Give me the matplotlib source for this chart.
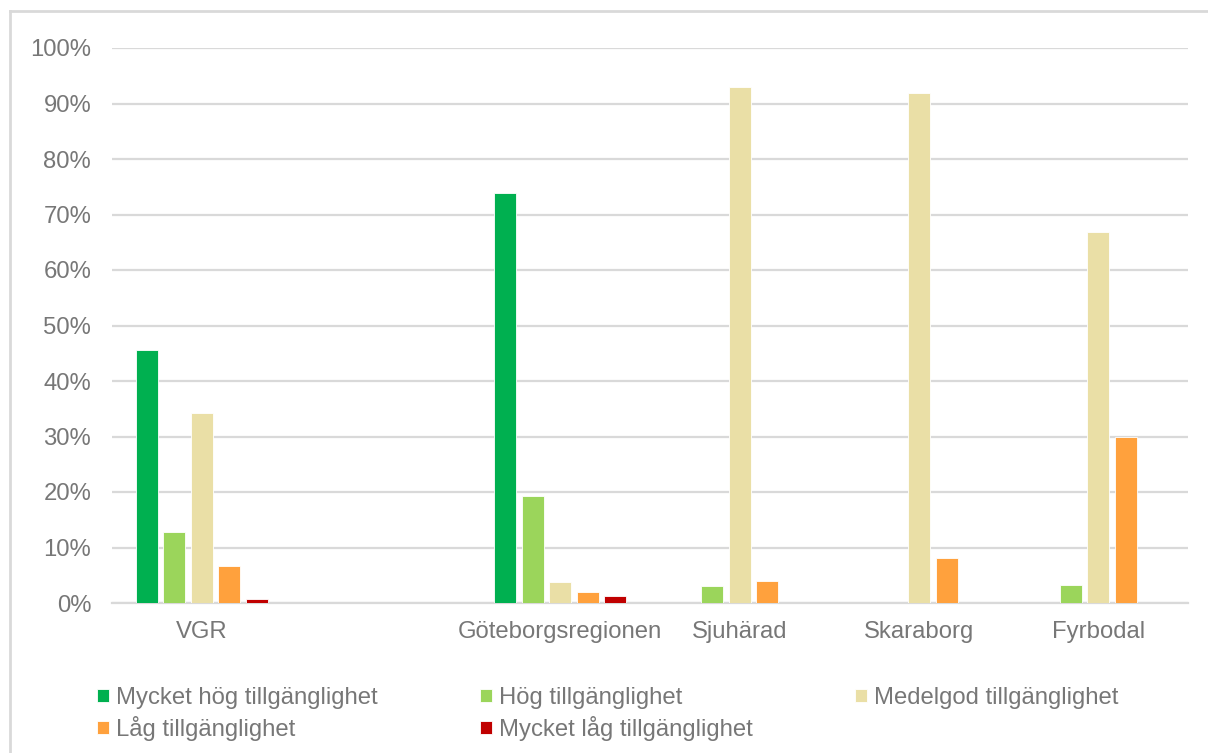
import matplotlib
matplotlib.use("Agg")
import matplotlib.pyplot as plt
import numpy as np
from matplotlib.lines import Line2D

categories = ["VGR", "", "Göteborgsregionen", "Sjuhärad", "Skaraborg", "Fyrbodal"]
series_names = ["Mycket hög tillgänglighet", "Hög tillgänglighet", "Medelgod tillgänglighet",
                "Låg tillgänglighet", "Mycket låg tillgänglighet"]
mycket_hog = [45.6, 0, 73.9, 0, 0, 0]
hog = [12.8, 0, 19.2, 3.0, 0, 3.3]
medelgod = [34.2, 0, 3.7, 93.0, 91.9, 66.8]
lag = [6.7, 0, 1.9, 4.0, 8.1, 29.9]
mycket_lag = [0.7, 0, 1.2, 0, 0, 0]
yticks = [0, 10, 20, 30, 40, 50, 60, 70, 80, 90, 100]

colors = ["#00B050", "#9BD55B", "#EADFA6", "#FFA13D", "#C00000"]
text_color = "#777777"
grid_color = "#D9D9D9"
FS = 17.2

W, H = 1208, 753
fig = plt.figure(figsize=(W / 100, H / 100), dpi=100)
fig.patch.set_facecolor("white")
plt.rcParams["font.family"] = ["Liberation Sans", "DejaVu Sans"]

# figure border lines (chart frame)
fig.add_artist(Line2D([10 / W, 1.0], [1 - 11 / H, 1 - 11 / H], color="#D9D9D9", lw=2.0, transform=fig.transFigure))
fig.add_artist(Line2D([10 / W, 10 / W], [0, 1 - 11 / H], color="#D9D9D9", lw=2.0, transform=fig.transFigure))

ax = fig.add_axes([112 / W, (H - 603) / H, (1188 - 112) / W, 555 / H])
x = np.arange(len(categories))
step = 0.1534
bw = 0.1227
data = [mycket_hog, hog, medelgod, lag, mycket_lag]
handles = []
for i, (vals, c, name) in enumerate(zip(data, colors, series_names)):
    bars = ax.bar(x + (i - 2) * step, vals, width=bw, color=c, edgecolor="white", linewidth=0.6,
                  label=name, zorder=3)
    handles.append(bars)

ax.set_xlim(-0.5, len(categories) - 0.5)
ax.set_ylim(0, 100)
ax.set_yticks(yticks)
ax.set_yticklabels([f"{v}%" for v in yticks])
ax.set_xticks(x)
ax.set_xticklabels(categories)
ax.yaxis.grid(True, color=grid_color, lw=1.6, zorder=0)
ax.set_axisbelow(True)
for s in ["top", "right", "left"]:
    ax.spines[s].set_visible(False)
ax.spines["bottom"].set_color(grid_color)
ax.spines["bottom"].set_linewidth(1.6)
ax.tick_params(axis="both", length=0, labelsize=FS, colors=text_color)
ax.tick_params(axis="y", pad=15)
ax.tick_params(axis="x", pad=13)

order = [0, 3, 1, 4, 2]
leg = fig.legend([handles[k] for k in order], [series_names[k] for k in order],
                 loc="upper left", bbox_to_anchor=(97 / W, 1 - 687 / H), ncol=3, frameon=False,
                 fontsize=FS, handlelength=0.5, handleheight=0.5, handletextpad=0.28,
                 columnspacing=4.3, labelspacing=0.3, borderpad=0, borderaxespad=0)
for t in leg.get_texts():
    t.set_color(text_color)

fig.savefig("out.png", dpi=100, facecolor="white")
